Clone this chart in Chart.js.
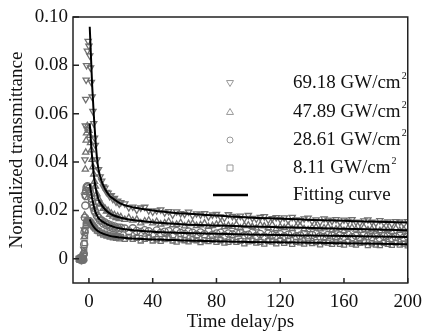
<!DOCTYPE html>
<html>
<head>
<meta charset="utf-8">
<script src="https://cdn.jsdelivr.net/npm/chart.js@4.4.0/dist/chart.umd.min.js"></script>
<style>
html, body { margin: 0; padding: 0; background: #fff; }
</style>
</head>
<body>
<canvas id="chart" width="430" height="333"></canvas>
<script>
// axis ticks
const xTicks = [0, 40, 80, 120, 160, 200];
const yTicks = [0, 0.02, 0.04, 0.06, 0.08, 0.10];

// legend labels
const seriesLabels = ['69.18 GW/cm²', '47.89 GW/cm²', '28.61 GW/cm²', '8.11 GW/cm²'];
const fitLabel = 'Fitting curve';

// measured points (time delay in ps)
const tData = [-6, -5.5, -5, -4.5, -4, -3.5, -3.25, -3, -2.75, -2.5, -2.25, -2, -1.75, -1.5, -1, -0.5, 0, 0.5, 1, 1.5, 2, 2.5, 3, 3.5, 4,
  5, 6, 7, 8, 9, 10, 11, 12, 13, 14, 15, 16, 17, 18, 19, 20,
  22.5, 25, 27.5, 30, 32.5, 35, 37.5, 40, 42.5, 45, 47.5, 50, 52.5, 55, 57.5, 60, 62.5, 65, 67.5, 70, 72.5, 75, 77.5, 80,
  82.5, 85, 87.5, 90, 92.5, 95, 97.5, 100, 102.5, 105, 107.5, 110, 112.5, 115, 117.5, 120, 122.5, 125, 127.5, 130, 132.5, 135, 137.5, 140,
  142.5, 145, 147.5, 150, 152.5, 155, 157.5, 160, 162.5, 165, 167.5, 170, 172.5, 175, 177.5, 180, 182.5, 185, 187.5, 190, 192.5, 195, 197.5, 200];

const s1 = [0.0003, -0.0004, 0.0001, -0.0006, -0.0002, 0.0005, 0.004, 0.012, 0.026, 0.041, 0.055, 0.066, 0.074, 0.080, 0.086, 0.090, 0.088, 0.084, 0.079, 0.073, 0.067, 0.061, 0.056, 0.050, 0.047,
  0.041, 0.037, 0.034, 0.0322, 0.0298, 0.0293, 0.0276, 0.0272, 0.0258, 0.0262, 0.0247, 0.0251, 0.0236, 0.0239, 0.0227, 0.0233,
  0.0228, 0.0212, 0.0215, 0.0202, 0.0211, 0.0214, 0.0199, 0.0194, 0.0199, 0.0203, 0.0191, 0.0196, 0.0182, 0.0195, 0.0188, 0.0185, 0.0194, 0.0179, 0.0187, 0.0182, 0.0188, 0.0174, 0.0182, 0.0184,
  0.0174, 0.0169, 0.0183, 0.0176, 0.0171, 0.0177, 0.0166, 0.0180, 0.0168, 0.0165, 0.0172, 0.0175, 0.0161, 0.0167, 0.0171, 0.0163, 0.0170, 0.0159, 0.0172, 0.0162, 0.0159, 0.0166, 0.0169, 0.0156,
  0.0162, 0.0152, 0.0166, 0.0161, 0.0156, 0.0163, 0.0151, 0.0161, 0.0156, 0.0163, 0.0152, 0.0149, 0.0158, 0.0162, 0.0152, 0.0148, 0.0159, 0.0149, 0.0153, 0.0144, 0.0155, 0.0153, 0.0144, 0.0155];

const s2 = [-0.0002, 0.0004, -0.0005, 0.0002, -0.0003, 0.0001, 0.003, 0.009, 0.018, 0.028, 0.037, 0.044, 0.049, 0.052, 0.055, 0.054, 0.053, 0.051, 0.048, 0.045, 0.041, 0.038, 0.035, 0.032, 0.030,
  0.0268, 0.0249, 0.0228, 0.0225, 0.0208, 0.0209, 0.0196, 0.0199, 0.0183, 0.0188, 0.0176, 0.0182, 0.0170, 0.0176, 0.0165, 0.0173,
  0.0162, 0.0170, 0.0159, 0.0163, 0.0148, 0.0156, 0.0159, 0.0148, 0.0154, 0.0143, 0.0148, 0.0154, 0.0140, 0.0142, 0.0149, 0.0135, 0.0145, 0.0146, 0.0137, 0.0140, 0.0147, 0.0133, 0.0137, 0.0142,
  0.0146, 0.0132, 0.0138, 0.0133, 0.0142, 0.0127, 0.0137, 0.0139, 0.0133, 0.0127, 0.0140, 0.0135, 0.0128, 0.0141, 0.0124, 0.0132, 0.0128, 0.0136, 0.0124, 0.0132, 0.0136, 0.0124, 0.0120, 0.0129,
  0.0131, 0.0123, 0.0127, 0.0132, 0.0119, 0.0123, 0.0128, 0.0116, 0.0126, 0.0129, 0.0122, 0.0117, 0.0130, 0.0119, 0.0123, 0.0114, 0.0116, 0.0125, 0.0121, 0.0113, 0.0126, 0.0117, 0.0121, 0.0113];

const s3 = [0.0001, -0.0003, 0.0004, -0.0001, 0.0002, -0.0004, 0.002, 0.006, 0.011, 0.017, 0.022, 0.026, 0.028, 0.0295, 0.030, 0.0298, 0.029, 0.028, 0.0268, 0.025, 0.0236, 0.0222, 0.0212, 0.0200, 0.0193,
  0.0178, 0.0170, 0.0158, 0.0158, 0.0146, 0.0150, 0.0139, 0.0143, 0.0133, 0.0138, 0.0127, 0.0134, 0.0124, 0.0130, 0.0120, 0.0128,
  0.0125, 0.0114, 0.0126, 0.0115, 0.0111, 0.0118, 0.0114, 0.0105, 0.0117, 0.0107, 0.0112, 0.0114, 0.0101, 0.0115, 0.0107, 0.0103, 0.0113, 0.0108, 0.0100, 0.0109, 0.0102, 0.0113, 0.0099, 0.0105,
  0.0108, 0.0096, 0.0105, 0.0101, 0.0107, 0.0108, 0.0097, 0.0100, 0.0108, 0.0094, 0.0103, 0.0092, 0.0104, 0.0100, 0.0095, 0.0102, 0.0093, 0.0100, 0.0104, 0.0093, 0.0096, 0.0102, 0.0089, 0.0099,
  0.0104, 0.0093, 0.0090, 0.0099, 0.0096, 0.0088, 0.0097, 0.0091, 0.0100, 0.0089, 0.0095, 0.0085, 0.0098, 0.0093, 0.0090, 0.0099, 0.0086, 0.0094, 0.0095, 0.0086, 0.0090, 0.0096, 0.0087, 0.0092];

const s4 = [-0.0004, 0.0002, -0.0002, 0.0003, -0.0005, 0.0002, 0.0012, 0.0035, 0.0065, 0.0095, 0.0120, 0.0138, 0.0148, 0.0154, 0.0158, 0.0160, 0.0157, 0.0154, 0.0150, 0.0146, 0.0141, 0.0137, 0.0132, 0.0129, 0.0125,
  0.0117, 0.0115, 0.0107, 0.0108, 0.0100, 0.0104, 0.0096, 0.0100, 0.0092, 0.0097, 0.0089, 0.0094, 0.0087, 0.0092, 0.0085, 0.0090,
  0.0083, 0.0090, 0.0083, 0.0087, 0.0076, 0.0083, 0.0087, 0.0076, 0.0081, 0.0074, 0.0082, 0.0084, 0.0076, 0.0071, 0.0081, 0.0077, 0.0072, 0.0080, 0.0077, 0.0069, 0.0077, 0.0073, 0.0079, 0.0070,
  0.0077, 0.0067, 0.0070, 0.0078, 0.0070, 0.0074, 0.0064, 0.0072, 0.0075, 0.0067, 0.0070, 0.0063, 0.0073, 0.0071, 0.0064, 0.0074, 0.0066, 0.0073, 0.0062, 0.0070, 0.0068, 0.0063, 0.0072, 0.0065,
  0.0069, 0.0060, 0.0069, 0.0067, 0.0062, 0.0070, 0.0062, 0.0059, 0.0070, 0.0063, 0.0059, 0.0066, 0.0068, 0.0057, 0.0064, 0.0059, 0.0057, 0.0066, 0.0062, 0.0058, 0.0067, 0.0059, 0.0063, 0.0056];

// fitted curves
const tFit = [0.5, 1, 1.5, 2, 3, 4, 5, 6, 8, 10, 13, 16, 20, 25, 30, 40, 50, 60, 80, 100, 120, 140, 160, 180, 200];
const fit1 = [0.096, 0.088, 0.080, 0.072, 0.060, 0.050, 0.042, 0.037, 0.032, 0.029, 0.026, 0.0245, 0.0228, 0.0217, 0.0210, 0.0200, 0.0193, 0.0187, 0.0179, 0.0171, 0.0166, 0.0161, 0.0157, 0.0153, 0.0150];
const fit2 = [0.056, 0.051, 0.046, 0.042, 0.035, 0.030, 0.027, 0.0245, 0.0222, 0.0205, 0.0188, 0.0178, 0.0170, 0.0163, 0.0158, 0.0151, 0.0146, 0.0142, 0.0138, 0.0134, 0.0131, 0.0127, 0.0124, 0.0121, 0.0118];
const fit3 = [0.031, 0.029, 0.027, 0.025, 0.022, 0.0195, 0.018, 0.0168, 0.0156, 0.0148, 0.0138, 0.0131, 0.0125, 0.0120, 0.0117, 0.0112, 0.0109, 0.0107, 0.0104, 0.0101, 0.0098, 0.0096, 0.0094, 0.0092, 0.0090];
const fit4 = [0.0163, 0.0155, 0.0148, 0.0142, 0.0132, 0.0124, 0.0118, 0.0113, 0.0106, 0.0101, 0.0095, 0.0091, 0.0088, 0.0085, 0.0083, 0.0080, 0.0078, 0.0076, 0.0073, 0.0070, 0.0068, 0.0066, 0.0064, 0.0062, 0.0060];

const FONT = "'Liberation Serif', 'Times New Roman', serif";
const markerColor = '#707070';
const markers = [
  { style: 'triangle', rotation: 180 },
  { style: 'triangle', rotation: 0 },
  { style: 'circle', rotation: 0 },
  { style: 'rect', rotation: 0 }
];

function pts(xs, ys) {
  return xs.map((x, i) => ({ x: x, y: ys[i] }));
}

const datasets = [];
[s1, s2, s3, s4].forEach((s, i) => {
  datasets.push({
    label: seriesLabels[i],
    data: pts(tData, s),
    showLine: false,
    pointStyle: markers[i].style,
    rotation: markers[i].rotation,
    pointRadius: 3.6,
    pointBorderWidth: 1.3,
    pointBorderColor: markerColor,
    pointBackgroundColor: 'rgba(255,255,255,0)',
    order: 2
  });
});
[fit1, fit2, fit3, fit4].forEach((f) => {
  datasets.push({
    label: fitLabel,
    data: pts(tFit, f),
    showLine: true,
    borderColor: '#000',
    borderWidth: 2,
    pointRadius: 0,
    cubicInterpolationMode: 'monotone',
    order: 1
  });
});

// frame, inward ticks and legend
const framePlugin = {
  id: 'frame',
  afterDraw(chart) {
    const { ctx, chartArea: a, scales } = chart;
    ctx.save();
    ctx.strokeStyle = '#222';
    ctx.lineWidth = 1.5;
    ctx.strokeRect(a.left, a.top, a.right - a.left, a.bottom - a.top);
    ctx.beginPath();
    xTicks.forEach(v => {
      const px = scales.x.getPixelForValue(v);
      ctx.moveTo(px, a.bottom);
      ctx.lineTo(px, a.bottom - 5);
    });
    yTicks.forEach(v => {
      const py = scales.y.getPixelForValue(v);
      ctx.moveTo(a.left, py);
      ctx.lineTo(a.left + 6, py);
    });
    ctx.stroke();

    // legend
    const rowY = [83, 112, 140, 168, 195];
    const mx = 230, tx = 293;
    ctx.fillStyle = '#111';
    ctx.textBaseline = 'middle';
    ctx.textAlign = 'left';
    seriesLabels.forEach((lab, i) => {
      const y = rowY[i];
      ctx.strokeStyle = '#999';
      ctx.lineWidth = 1;
      ctx.beginPath();
      const r = 3.5;
      if (i === 0) {
        ctx.moveTo(mx - r, y - r * 0.7); ctx.lineTo(mx + r, y - r * 0.7); ctx.lineTo(mx, y + r); ctx.closePath();
      } else if (i === 1) {
        ctx.moveTo(mx - r, y + r * 0.7); ctx.lineTo(mx + r, y + r * 0.7); ctx.lineTo(mx, y - r); ctx.closePath();
      } else if (i === 2) {
        ctx.arc(mx, y, 3, 0, Math.PI * 2);
      } else {
        ctx.rect(mx - 3, y - 3, 6, 6);
      }
      ctx.stroke();
      // main text, then a small raised "2"
      const main = lab.replace('²', '');
      ctx.font = '19px ' + FONT;
      ctx.fillText(main, tx, y);
      const w = ctx.measureText(main).width;
      ctx.font = '10px ' + FONT;
      ctx.fillText('2', tx + w + 1, y - 7);
    });
    ctx.font = '19px ' + FONT;
    ctx.strokeStyle = '#000';
    ctx.lineWidth = 2.5;
    ctx.beginPath();
    ctx.moveTo(213, rowY[4]);
    ctx.lineTo(248, rowY[4]);
    ctx.stroke();
    ctx.fillText(fitLabel, tx, rowY[4]);
    ctx.restore();
  }
};

new Chart(document.getElementById('chart').getContext('2d'), {
  type: 'scatter',
  data: { datasets: datasets },
  options: {
    responsive: false,
    animation: false,
    devicePixelRatio: 1,
    layout: { padding: { left: 0, right: 15, top: 17, bottom: 0 } },
    plugins: { legend: { display: false }, tooltip: { enabled: false } },
    scales: {
      x: {
        type: 'linear',
        min: -10,
        max: 200,
        afterBuildTicks: s => { s.ticks = xTicks.map(v => ({ value: v })); },
        afterFit: s => { s.height = 50; },
        grid: { display: false, drawTicks: false },
        border: { display: false },
        ticks: { color: '#111', padding: 8, font: { family: FONT, size: 19 }, maxRotation: 0 },
        title: { display: true, text: 'Time delay/ps', color: '#111', font: { family: FONT, size: 19 }, padding: { top: 0, bottom: 0 } }
      },
      y: {
        type: 'linear',
        min: -0.01,
        max: 0.10,
        afterBuildTicks: s => { s.ticks = yTicks.map(v => ({ value: v })); },
        afterFit: s => { s.width = 73; },
        grid: { display: false, drawTicks: false },
        border: { display: false },
        ticks: {
          color: '#111', padding: 5, font: { family: FONT, size: 19 },
          callback: v => (v === 0 ? '0' : v.toFixed(2))
        },
        title: { display: true, text: 'Normalized transmittance', color: '#111', font: { family: FONT, size: 19 }, padding: { top: 6, bottom: 0 } }
      }
    }
  },
  plugins: [framePlugin]
});
</script>
</body>
</html>
